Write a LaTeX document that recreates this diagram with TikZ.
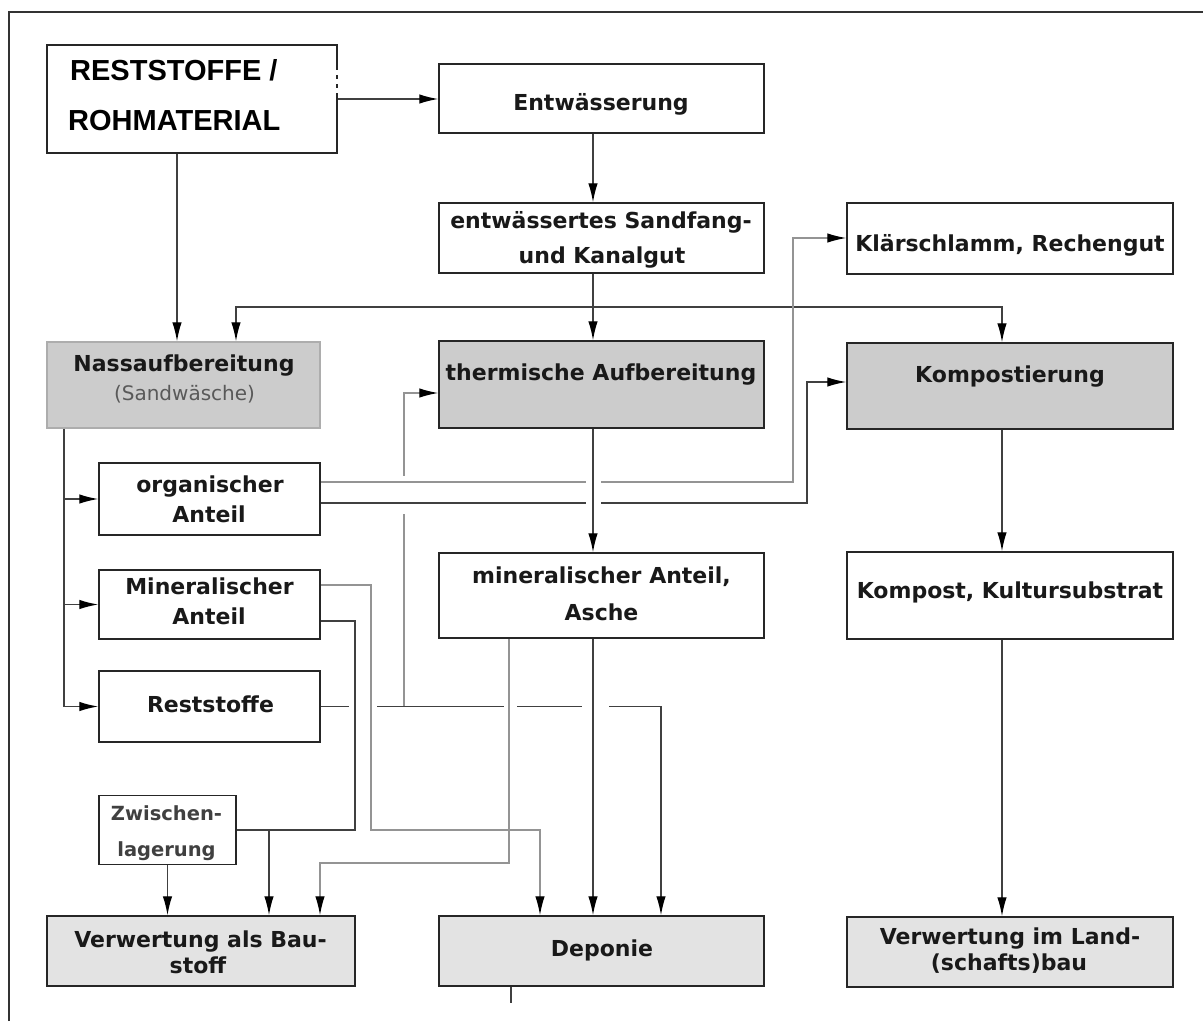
\documentclass[tikz,border=0pt]{standalone}
\usepackage{fontspec}
\newfontfamily\dvfont{DejaVu Sans}
\newfontfamily\libfont{Liberation Sans}
\usetikzlibrary{arrows.meta,calc}
\begin{document}
\begin{tikzpicture}[x=1pt,y=-1pt,
  bx/.style={draw=black!85, line width=1.5pt, fill=white, inner sep=0pt},
  bxd/.style={bx, fill=black!20},
  bxl/.style={bx, fill=black!11},
  lbl/.style={font=\dvfont\bfseries\fontsize{22}{26}\selectfont, anchor=base, inner sep=0pt, text=black!90},
  lblr/.style={font=\dvfont\fontsize{20}{24}\selectfont, anchor=base, inner sep=0pt, text=black!65},
  lbls/.style={font=\dvfont\bfseries\fontsize{19.5}{23}\selectfont, anchor=base, inner sep=0pt, text=black!75},
  big/.style={font=\libfont\bfseries\fontsize{29}{32}\selectfont, anchor=base west, inner sep=0pt},
  ln/.style={line width=1.4pt, draw=black!75},
  lg/.style={line width=1.3pt, draw=black!42},
  arr/.style={ln, -{Latex[length=19pt,width=9.5pt,color=black]}},
  arrg/.style={lg, -{Latex[length=19pt,width=9.5pt,color=black]}},
  gapw/.style={fill=white, draw=none}
]
\useasboundingbox (0,0) rectangle (1203,1021);
% frame
\draw[line width=1.3pt, black!80] (9,1021) -- (9,12) -- (1203,12);

% boxes
\node[bx, line width=2pt, minimum width=290pt, minimum height=108pt] (rest) at (192,99) {};
\node[bx, minimum width=325pt, minimum height=69pt] (entw) at (601.5,98.5) {};
\node[bx, minimum width=325pt, minimum height=70pt] (ents) at (601.5,238) {};
\node[bx, minimum width=326pt, minimum height=71pt] (klar) at (1010,238.5) {};
\node[bxd, draw=black!32, minimum width=273pt, minimum height=86pt] (nass) at (183.5,385) {};
\node[bxd, minimum width=325pt, minimum height=87pt] (therm) at (601.5,384.5) {};
\node[bxd, minimum width=326pt, minimum height=86pt] (komp) at (1010,386) {};
\node[bx, minimum width=221pt, minimum height=72pt] (org) at (209.5,499) {};
\node[bx, minimum width=221pt, minimum height=69pt] (minL) at (209.5,604.5) {};
\node[bx, minimum width=221pt, minimum height=71pt] (rst) at (209.5,706.5) {};
\node[bx, minimum width=325pt, minimum height=85pt] (minA) at (601.5,595.5) {};
\node[bx, minimum width=326pt, minimum height=87pt] (kompst) at (1010,595.5) {};
\node[bx, minimum width=137pt, minimum height=69pt] (zw) at (167.5,830) {};
\node[bxl, minimum width=308pt, minimum height=70pt] (bau) at (201,951) {};
\node[bxl, minimum width=325pt, minimum height=70pt] (dep) at (601.5,951) {};
\node[bxl, minimum width=326pt, minimum height=70pt] (land) at (1010,952) {};
\draw[white, line width=1.8pt, dash pattern=on 5pt off 4pt] (337,70) -- (337,96);

% labels
\node[big] (tR1) at (70,80) {RESTSTOFFE /};
\node[big] (tR2) at (68,130) {ROHMATERIAL};
\node[lbl] (tEntw) at (601,110) {Entwässerung};
\node[lbl] (tEnts1) at (601,228) {entwässertes Sandfang-};
\node[lbl] (tEnts2) at (602,263) {und Kanalgut};
\node[lbl] (tKlar) at (1010,251) {Klärschlamm, Rechengut};
\node[lbl] (tNass) at (184,371) {Nassaufbereitung};
\node[lblr] (tSand) at (184.5,400) {(Sandwäsche)};
\node[lbl] (tTherm) at (601,380) {thermische Aufbereitung};
\node[lbl] (tKomp) at (1010,382) {Kompostierung};
\node[lbl] (tOrg1) at (210,492) {organischer};
\node[lbl] (tOrg2) at (209,522) {Anteil};
\node[lbl] (tMinL1) at (209.5,594) {Mineralischer};
\node[lbl] (tMinL2) at (209,624) {Anteil};
\node[lbl] (tRst) at (210.5,712) {Reststoffe};
\node[lbl] (tMinA1) at (601.5,583) {mineralischer Anteil,};
\node[lbl] (tMinA2) at (601.5,620) {Asche};
\node[lbl] (tKompst) at (1010,598) {Kompost, Kultursubstrat};
\node[lbls] (tZw1) at (166.5,820) {Zwischen-};
\node[lbls] (tZw2) at (166.5,856) {lagerung};
\node[lbl] (tBau1) at (200.5,947) {Verwertung als Bau-};
\node[lbl] (tBau2) at (198,973) {stoff};
\node[lbl] (tDep) at (602,956) {Deponie};
\node[lbl] (tLand1) at (1010,944) {Verwertung im Land-};
\node[lbl] (tLand2) at (1009,970) {(schafts)bau};

% top connectors
\draw[arr] (rest.east) -- (rest.east -| entw.west);
\draw[arr] (177,0 |- rest.south) -- (177,0 |- nass.north);
\draw[arr] (593,0 |- entw.south) -- (593,0 |- ents.north);
\draw[arr] (593,0 |- ents.south) -- (593,0 |- therm.north);
\coordinate (j1) at (593,307);
\draw[arr] (j1) -| (236,0 |- nass.north);
\draw[arr] (j1) -| (1002,0 |- komp.north);

% left distributor
\coordinate (n1) at (64,0 |- rst.west);
\draw[ln] (64,0 |- nass.south) -- (n1);
\draw[arr] (64,0 |- org.west) -- (org.west);
\draw[arr] (64,0 |- minL.west) -- (minL.west);
\draw[arr] (n1) -- (rst.west);

% vertical from Reststoffe line up to thermische
\coordinate (r1) at (404,0 |- rst.east);
\draw[arrg] (r1) -- (404,393) -- (therm.west |- 0,393);
\fill[gapw] (399,476) rectangle (409,514);

% organischer Anteil lines
\draw[arrg] (org.east |- 0,482) -| (793,238) -- (klar.west |- 0,238);
\draw[arr] (org.east |- 0,503) -| (807,382) -- (komp.west |- 0,382);
\fill[gapw] (586,477) rectangle (601,508);
\draw[arr] (593,0 |- therm.south) -- (593,0 |- minA.north);

% Reststoffe line
\draw[arr] (rst.east) -| (661,0 |- dep.north);
\fill[gapw] (349,702) rectangle (377,712);
\fill[gapw] (504,702) rectangle (517,712);
\fill[gapw] (582,702) rectangle (609,712);

% Mineralischer Anteil lines
\draw[arrg] (minL.east |- 0,585) -- (371,585) -- (371,830) -- (540,830) -- (540,0 |- dep.north);
\draw[ln] (minL.east |- 0,621) -- (355,621) -- (355,830) -- (zw.east);
\draw[arr] (269,830) -- (269,0 |- bau.north);
\draw[arr] (zw.south) -- (zw.south |- bau.north);

% mineralischer Anteil, Asche outputs
\draw[arrg] (509,0 |- minA.south) -- (509,863) -- (320,863) -- (320,0 |- bau.north);
\draw[arr] (593,0 |- minA.south) -- (593,0 |- dep.north);

% Deponie bottom stub
\coordinate (dend) at (511,1003);
\draw[ln] (511,0 |- dep.south) -- (dend);

% Kompostierung column
\draw[arr] (1002,0 |- komp.south) -- (1002,0 |- kompst.north);
\draw[arr] (1002,0 |- kompst.south) -- (1002,0 |- land.north);
\end{tikzpicture}
\end{document}
